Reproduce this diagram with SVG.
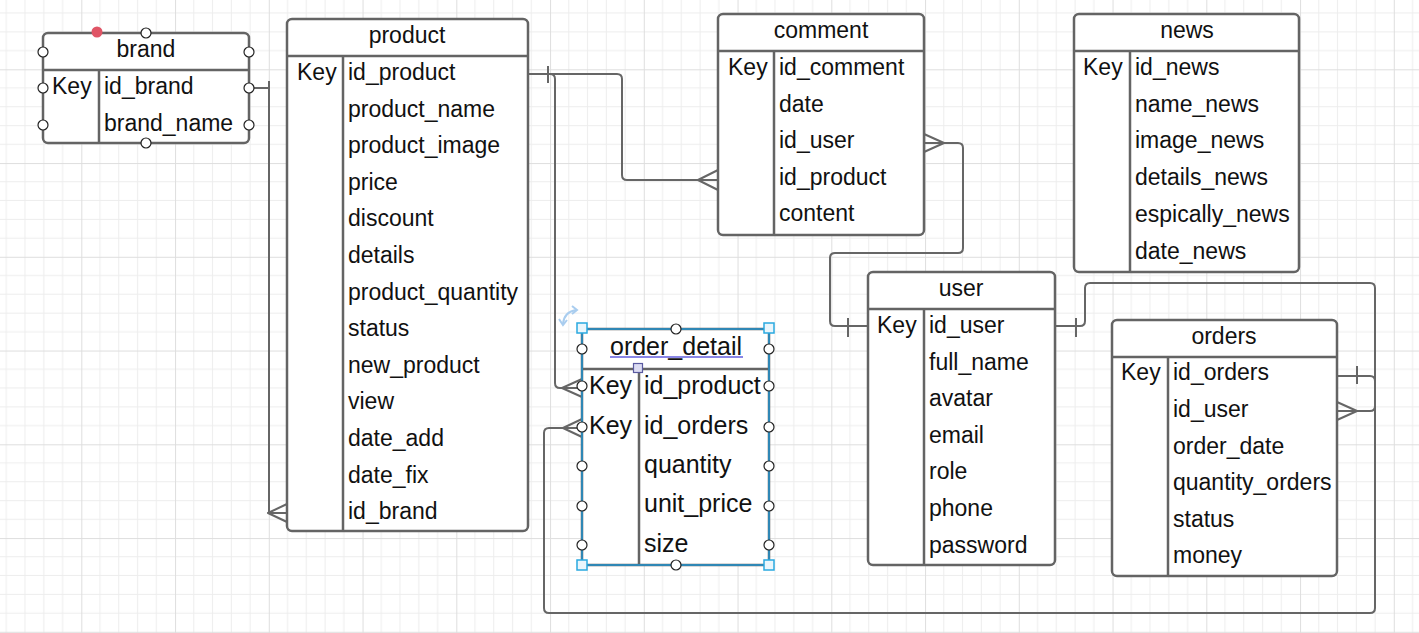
<svg xmlns="http://www.w3.org/2000/svg" width="1419" height="633" viewBox="0 0 1419 633">
<defs>
<pattern id="grid" patternUnits="userSpaceOnUse" x="-12.45" y="-24.45" width="93.75" height="93.75">
<path d="M18.75,0V93.75M37.5,0V93.75M56.25,0V93.75M75,0V93.75M0,18.75H93.75M0,37.5H93.75M0,56.25H93.75M0,75H93.75" stroke="#ededed" stroke-width="1" fill="none"/>
<path d="M0.5,0V93.75M0,0.5H93.75" stroke="#dedede" stroke-width="1" fill="none"/>
</pattern>
<style>
.tb{fill:#fff;stroke:#646464;stroke-width:2.5}
.ln{stroke:#646464;stroke-width:2.5;fill:none}
.t{font-family:"Liberation Sans",Arial,sans-serif;font-size:23px;fill:#111}
.big{font-size:25px}
.c{text-anchor:middle}
.cn{fill:none;stroke:#666;stroke-width:2;stroke-linejoin:round}
.h{fill:#fff;stroke:#222;stroke-width:1.2}
.sq{fill:#eaf6fc;stroke:#2aa9e0;stroke-width:1.5}
</style>
</defs>
<rect width="1419" height="633" fill="#fff"/>
<rect width="1419" height="633" fill="url(#grid)"/>

<g id="connectors">
<path class="cn" d="M249,88H269V513H287"/>
<path class="cn" d="M269,81V96"/>
<path class="cn" d="M287,504L268,513L287,522"/>

<path class="cn" d="M528,74H617Q622,74 622,79V175Q622,180 627,180H718"/>
<path class="cn" d="M548,66V83"/>
<path class="cn" d="M718,170L698,180L718,190"/>

<path class="cn" d="M528,74H550Q555,74 555,79V383Q555,388 560,388H582"/>
<path class="cn" d="M582,379L562,388L582,397"/>

<path class="cn" d="M1055,326H1080Q1085,326 1085,321V288Q1085,283 1090,283H1370Q1375,283 1375,288V608Q1375,613 1370,613H549Q544,613 544,608V433Q544,428 549,428H582"/>
<path class="cn" d="M1076,318V337"/>
<path class="cn" d="M582,419L563,428L582,437"/>

<path class="cn" d="M1337,376H1370Q1375,376 1375,381V406Q1375,411 1370,411H1337"/>
<path class="cn" d="M1357,366V384"/>
<path class="cn" d="M1337,402L1357,411L1337,420"/>

<path class="cn" d="M924,143H958Q963,143 963,148V248Q963,253 958,253H835Q830,253 830,258V321Q830,326 835,326H868"/>
<path class="cn" d="M848,318V337"/>
<path class="cn" d="M924,134L944,143L924,152"/>
</g>

<g id="brand">
<rect class="tb" x="43" y="33" width="206" height="110" rx="5"/>
<path class="ln" d="M43,70H249M99,70V143"/>
<text class="t c" x="146" y="57">brand</text>
<text class="t" x="52" y="94">Key</text>
<text class="t" x="104" y="94">id_brand</text>
<text class="t" x="104" y="131">brand_name</text>
<circle class="h" cx="146" cy="33" r="5"/>
<circle class="h" cx="146" cy="143" r="5"/>
<circle class="h" cx="43" cy="52" r="5"/>
<circle class="h" cx="249" cy="52" r="5"/>
<circle class="h" cx="43" cy="88" r="5"/>
<circle class="h" cx="249" cy="88" r="5"/>
<circle class="h" cx="43" cy="125" r="5"/>
<circle class="h" cx="249" cy="125" r="5"/>
<circle cx="97" cy="32" r="5.5" fill="#e05566"/>
</g>

<g id="product">
<rect class="tb" x="287" y="19" width="241" height="512" rx="5"/>
<path class="ln" d="M287,56H528M343,56V531"/>
<text class="t c" x="407" y="43">product</text>
<text class="t" x="297" y="80">Key</text>
<text class="t" x="348" y="80">id_product</text>
<text class="t" x="348" y="117">product_name</text>
<text class="t" x="348" y="153">product_image</text>
<text class="t" x="348" y="190">price</text>
<text class="t" x="348" y="226">discount</text>
<text class="t" x="348" y="263">details</text>
<text class="t" x="348" y="300">product_quantity</text>
<text class="t" x="348" y="336">status</text>
<text class="t" x="348" y="373">new_product</text>
<text class="t" x="348" y="409">view</text>
<text class="t" x="348" y="446">date_add</text>
<text class="t" x="348" y="483">date_fix</text>
<text class="t" x="348" y="519">id_brand</text>
</g>

<g id="comment">
<rect class="tb" x="718" y="14" width="206" height="221" rx="5"/>
<path class="ln" d="M718,51H924M774,51V235"/>
<text class="t c" x="821" y="38">comment</text>
<text class="t" x="728" y="75">Key</text>
<text class="t" x="779" y="75">id_comment</text>
<text class="t" x="779" y="112">date</text>
<text class="t" x="779" y="148">id_user</text>
<text class="t" x="779" y="185">id_product</text>
<text class="t" x="779" y="221">content</text>
</g>

<g id="news">
<rect class="tb" x="1074" y="14" width="225" height="258" rx="5"/>
<path class="ln" d="M1074,51H1299M1130,51V272"/>
<text class="t c" x="1187" y="38">news</text>
<text class="t" x="1083" y="75">Key</text>
<text class="t" x="1135" y="75">id_news</text>
<text class="t" x="1135" y="112">name_news</text>
<text class="t" x="1135" y="148">image_news</text>
<text class="t" x="1135" y="185">details_news</text>
<text class="t" x="1135" y="222">espically_news</text>
<text class="t" x="1135" y="259">date_news</text>
</g>

<g id="user">
<rect class="tb" x="868" y="272" width="187" height="293" rx="5"/>
<path class="ln" d="M868,309H1055M924,309V565"/>
<text class="t c" x="961" y="296">user</text>
<text class="t" x="877" y="333">Key</text>
<text class="t" x="929" y="333">id_user</text>
<text class="t" x="929" y="370">full_name</text>
<text class="t" x="929" y="406">avatar</text>
<text class="t" x="929" y="443">email</text>
<text class="t" x="929" y="479">role</text>
<text class="t" x="929" y="516">phone</text>
<text class="t" x="929" y="553">password</text>
</g>

<g id="orders">
<rect class="tb" x="1112" y="320" width="225" height="256" rx="5"/>
<path class="ln" d="M1112,357H1337M1168,357V576"/>
<text class="t c" x="1224" y="344">orders</text>
<text class="t" x="1121" y="380">Key</text>
<text class="t" x="1173" y="380">id_orders</text>
<text class="t" x="1173" y="417">id_user</text>
<text class="t" x="1173" y="454">order_date</text>
<text class="t" x="1173" y="490">quantity_orders</text>
<text class="t" x="1173" y="527">status</text>
<text class="t" x="1173" y="563">money</text>
</g>

<g id="order_detail">
<rect x="582" y="329" width="187" height="236" fill="#fff" stroke="#646464" stroke-width="2.5"/>
<path class="ln" d="M582,369H769M639,369V565"/>
<rect x="582" y="329" width="187" height="236" fill="none" stroke="#2f87b5" stroke-width="2"/>
<text class="t big c" x="676" y="355">order_detail</text>
<path d="M610,357H743" stroke="#8a86e6" stroke-width="1.8"/>
<text class="t big" x="589" y="394">Key</text>
<text class="t big" x="644" y="394">id_product</text>
<text class="t big" x="589" y="434">Key</text>
<text class="t big" x="644" y="434">id_orders</text>
<text class="t big" x="644" y="473">quantity</text>
<text class="t big" x="644" y="512">unit_price</text>
<text class="t big" x="644" y="552">size</text>
<rect x="633.5" y="363.5" width="9" height="9" fill="#dcdcf2" stroke="#5a5aa0" stroke-width="1.2"/>
<circle class="h" cx="676" cy="329" r="5"/>
<circle class="h" cx="676" cy="565" r="5"/>
<circle class="h" cx="582" cy="349" r="5"/>
<circle class="h" cx="769" cy="349" r="5"/>
<circle class="h" cx="582" cy="386" r="5"/>
<circle class="h" cx="769" cy="386" r="5"/>
<circle class="h" cx="582" cy="427" r="5"/>
<circle class="h" cx="769" cy="427" r="5"/>
<circle class="h" cx="582" cy="466" r="5"/>
<circle class="h" cx="769" cy="466" r="5"/>
<circle class="h" cx="582" cy="506" r="5"/>
<circle class="h" cx="769" cy="506" r="5"/>
<circle class="h" cx="582" cy="545" r="5"/>
<circle class="h" cx="769" cy="545" r="5"/>
<rect class="sq" x="577" y="323" width="10" height="10"/>
<rect class="sq" x="764" y="323" width="10" height="10"/>
<rect class="sq" x="577" y="560" width="10" height="10"/>
<rect class="sq" x="764" y="560" width="10" height="10"/>
<path d="M563,324Q564,312 576,310" fill="none" stroke="#a9cdef" stroke-width="2"/>
<path d="M559,319L563,325L567,320M572,306L577,310L572,314" fill="none" stroke="#a9cdef" stroke-width="2"/>
</g>
</svg>
